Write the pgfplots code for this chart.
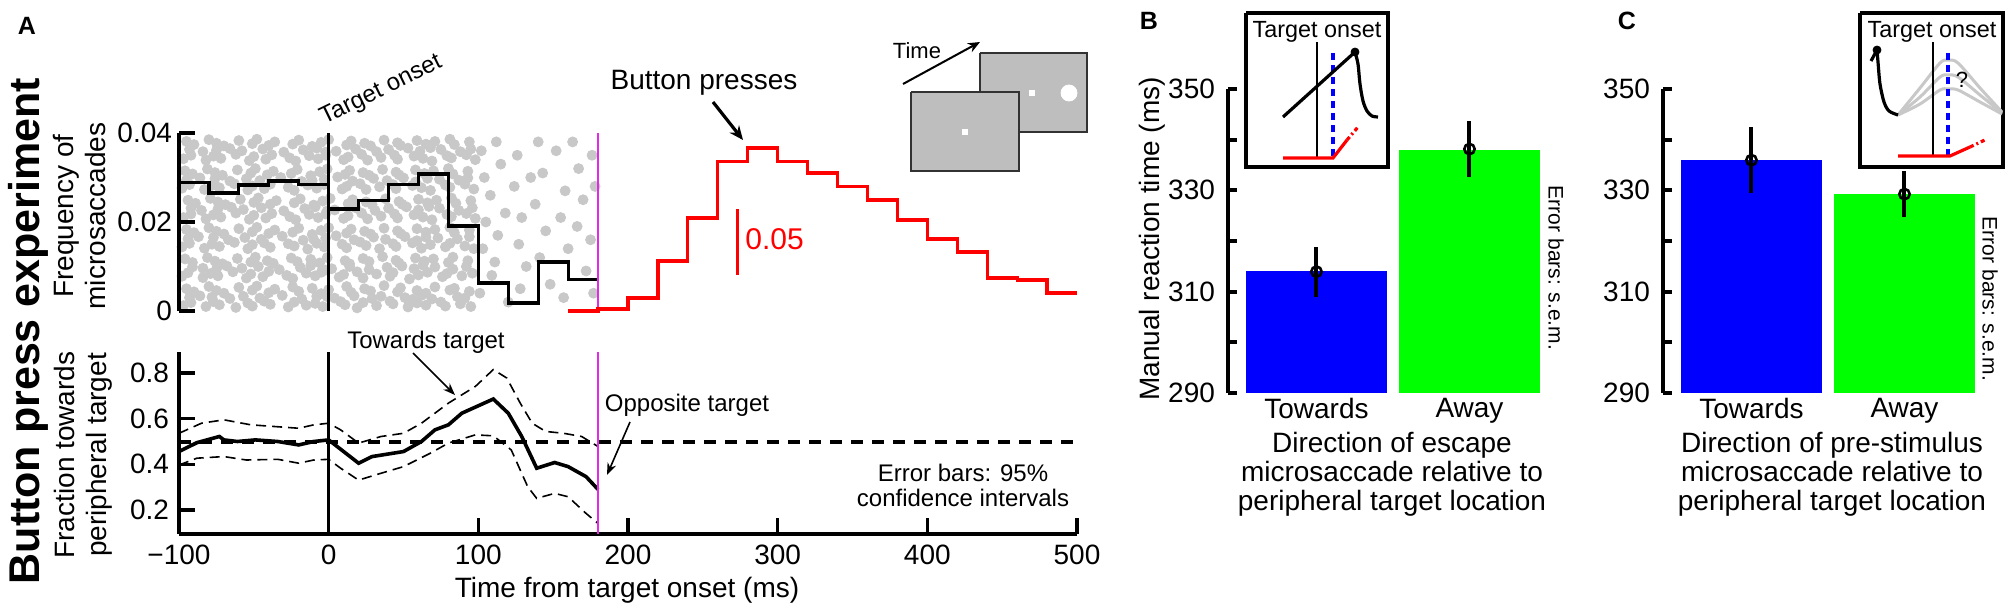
\documentclass[border=0pt]{standalone}
\usepackage{pgfplots}
\pgfplotsset{compat=1.18}
\usetikzlibrary{arrows.meta}
\usepackage{fontspec}
\setmainfont{Liberation Sans}
\definecolor{dotgray}{RGB}{200,200,200}
\definecolor{scrgray}{RGB}{190,190,190}
\definecolor{scredge}{RGB}{50,50,50}
\definecolor{mag}{RGB}{225,45,225}
\definecolor{pblue}{RGB}{0,0,255}
\definecolor{pgreen}{RGB}{0,255,0}
\definecolor{lgray}{RGB}{200,200,200}
\newcommand{\fs}[1]{\fontsize{#1}{#1}\selectfont}
\pgfplotsset{
  panel/.style={scale only axis, anchor=south west, tick align=inside,
    axis line style={line width=1.7pt}, tick style={line width=1.7pt, black},
    major tick length=8pt, ticklabel style={font=\fs{14}},
    scaled x ticks=false, scaled y ticks=false},
}
\begin{document}
\begin{tikzpicture}
\useasboundingbox (0,0) rectangle (1005pt,305pt);

% ---------- Panel A top: microsaccade raster (drawn first, underneath)
\begin{axis}[scale only axis, anchor=south west, at={(89.5pt,149.5pt)}, width=449pt, height=89pt,
  xmin=-100, xmax=500, ymin=0, ymax=0.04, clip=false, hide axis]
\addplot[dotgray, only marks, mark=*, mark size=2.5pt, mark options={draw=dotgray, fill=dotgray}] coordinates {
(-97,.0012)(-92,.0019)(-82,.0010)(-77,.0021)(-73,.0014)(-62,.0008)(-54,.0018)(-51,.0011)(-43,.0022)(-39,.0015)(-27,.0009)(-23,.0020)(-15,.0013)(-9,.0017)(-4,.0010)(8,.0021)(11,.0014)(19,.0007)(23,.0019)(32,.0012)(41,.0022)(43,.0016)(53,.0009)(59,.0018)(65,.0013)(75,.0020)(78,.0011)(88,.0016)(95,.0010)
(-95,.0050)(-90,.0043)(-80,.0055)(-75,.0046)(-70,.0040)(-60,.0053)(-51,.0047)(-48,.0056)(-40,.0041)(-36,.0049)(-24,.0054)(-20,.0044)(-11,.0051)(-5,.0039)(0,.0048)(12,.0055)(15,.0042)(24,.0050)(28,.0045)(37,.0057)(46,.0043)(48,.0052)(59,.0046)(65,.0040)(71,.0054)(81,.0047)(84,.0051)(94,.0044)
(-98,.0078)(-94,.0086)(-84,.0075)(-79,.0084)(-74,.0079)(-64,.0088)(-55,.0074)(-52,.0083)(-44,.0077)(-40,.0089)(-28,.0080)(-24,.0073)(-15,.0085)(-9,.0079)(-5,.0087)(7,.0076)(10,.0082)(19,.0088)(23,.0074)(32,.0083)(41,.0078)(43,.0086)(54,.0072)(60,.0081)(66,.0087)(76,.0077)(79,.0084)(89,.0079)(96,.0085)
(-96,.0117)(-91,.0109)(-81,.0120)(-76,.0112)(-71,.0106)(-61,.0118)(-52,.0110)(-49,.0121)(-41,.0113)(-37,.0107)(-25,.0119)(-21,.0111)(-12,.0116)(-6,.0108)(-1,.0120)(11,.0113)(14,.0106)(23,.0118)(27,.0111)(36,.0122)(45,.0114)(47,.0108)(58,.0119)(64,.0112)(70,.0117)(80,.0109)(83,.0121)(93,.0113)
(-98,.0144)(-93,.0152)(-83,.0141)(-78,.0150)(-73,.0145)(-63,.0154)(-54,.0140)(-51,.0149)(-43,.0153)(-39,.0143)(-27,.0151)(-23,.0146)(-14,.0139)(-8,.0152)(-3,.0144)(9,.0150)(12,.0142)(21,.0155)(25,.0147)(34,.0140)(43,.0151)(45,.0145)(56,.0153)(62,.0141)(68,.0149)(78,.0144)(81,.0152)(91,.0146)(97,.0140)
(-95,.0183)(-90,.0176)(-80,.0187)(-75,.0179)(-70,.0173)(-60,.0185)(-51,.0178)(-48,.0188)(-40,.0174)(-36,.0182)(-24,.0177)(-20,.0186)(-11,.0172)(-5,.0181)(0,.0187)(12,.0175)(15,.0184)(24,.0179)(28,.0173)(37,.0186)(46,.0180)(48,.0174)(59,.0185)(65,.0177)(71,.0183)(81,.0188)(84,.0176)(94,.0182)
(-97,.0210)(-92,.0218)(-82,.0207)(-77,.0216)(-72,.0211)(-62,.0220)(-53,.0206)(-50,.0215)(-42,.0209)(-38,.0219)(-26,.0212)(-22,.0205)(-13,.0217)(-7,.0210)(-2,.0218)(10,.0208)(13,.0214)(22,.0220)(26,.0207)(35,.0213)(44,.0218)(46,.0209)(57,.0216)(63,.0211)(69,.0205)(79,.0217)(82,.0212)(92,.0219)(98,.0208)
(-94,.0249)(-89,.0242)(-79,.0253)(-74,.0245)(-69,.0239)(-59,.0251)(-50,.0244)(-47,.0254)(-39,.0240)(-35,.0248)(-23,.0243)(-19,.0252)(-10,.0238)(-4,.0247)(1,.0253)(13,.0241)(16,.0250)(25,.0245)(29,.0239)(38,.0252)(47,.0246)(49,.0240)(60,.0251)(66,.0243)(72,.0249)(82,.0254)(85,.0242)(95,.0248)
(-98,.0276)(-93,.0284)(-83,.0273)(-78,.0282)(-73,.0277)(-63,.0286)(-54,.0272)(-51,.0281)(-43,.0275)(-39,.0285)(-27,.0278)(-23,.0271)(-14,.0283)(-8,.0276)(-3,.0284)(9,.0274)(12,.0280)(21,.0286)(25,.0273)(34,.0279)(43,.0284)(45,.0275)(56,.0282)(62,.0277)(68,.0271)(78,.0283)(81,.0278)(91,.0285)(97,.0274)
(-96,.0315)(-91,.0308)(-81,.0319)(-76,.0311)(-71,.0305)(-61,.0317)(-52,.0310)(-49,.0320)(-41,.0306)(-37,.0314)(-25,.0309)(-21,.0318)(-12,.0304)(-6,.0313)(-1,.0319)(11,.0307)(14,.0316)(23,.0311)(27,.0305)(36,.0318)(45,.0312)(47,.0306)(58,.0317)(64,.0309)(70,.0315)(80,.0320)(83,.0308)(93,.0314)
(-97,.0342)(-92,.0350)(-82,.0339)(-77,.0348)(-72,.0343)(-62,.0352)(-53,.0338)(-50,.0347)(-42,.0341)(-38,.0351)(-26,.0344)(-22,.0337)(-13,.0349)(-7,.0342)(-2,.0350)(10,.0340)(13,.0346)(22,.0352)(26,.0339)(35,.0345)(44,.0350)(46,.0341)(57,.0348)(63,.0343)(69,.0337)(79,.0349)(82,.0344)(92,.0351)(98,.0340)
(-95,.0381)(-90,.0374)(-80,.0385)(-75,.0377)(-70,.0371)(-60,.0383)(-51,.0376)(-48,.0386)(-40,.0372)(-36,.0380)(-24,.0375)(-20,.0384)(-11,.0370)(-5,.0379)(0,.0385)(12,.0373)(15,.0382)(24,.0377)(28,.0371)(37,.0384)(46,.0378)(48,.0372)(59,.0383)(65,.0375)(71,.0381)(81,.0386)(84,.0374)(94,.0380)
(-93,.0030)(-86,.0034)(-66,.0028)(-57,.0033)(-46,.0029)(-31,.0035)(-18,.0027)(-1,.0032)(4,.0029)(17,.0034)(29,.0028)(35,.0033)(51,.0030)(62,.0035)(69,.0027)(86,.0032)(91,.0029)(-78,.0031)(-8,.0033)(56,.0026)
(-91,.0099)(-75,.0094)(-68,.0101)(-58,.0096)(-47,.0100)(-33,.0093)(-19,.0098)(-12,.0102)(2,.0095)(14,.0100)(27,.0093)(39,.0098)(49,.0101)(57,.0095)(71,.0099)(83,.0094)(92,.0100)(-84,.0096)(-2,.0092)(63,.0103)
(-94,.0162)(-87,.0167)(-67,.0160)(-56,.0165)(-45,.0161)(-31,.0168)(-17,.0159)(-2,.0164)(5,.0169)(17,.0160)(30,.0166)(38,.0161)(51,.0167)(59,.0158)(73,.0164)(86,.0162)(94,.0167)(-77,.0165)(-10,.0161)(65,.0166)
(-92,.0231)(-85,.0226)(-65,.0233)(-57,.0228)(-45,.0232)(-30,.0225)(-16,.0230)(-9,.0234)(4,.0227)(18,.0232)(31,.0226)(40,.0231)(52,.0234)(60,.0227)(74,.0231)(87,.0226)(96,.0232)(-74,.0229)(-1,.0225)(67,.0235)
(-95,.0294)(-86,.0299)(-66,.0292)(-55,.0297)(-46,.0293)(-32,.0300)(-18,.0291)(-3,.0296)(6,.0301)(16,.0292)(30,.0298)(39,.0293)(50,.0299)(58,.0290)(74,.0296)(87,.0294)(93,.0299)(-76,.0297)(-11,.0293)(66,.0298)
(-93,.0363)(-84,.0358)(-66,.0365)(-58,.0360)(-44,.0364)(-30,.0357)(-17,.0362)(-8,.0366)(5,.0359)(18,.0364)(32,.0358)(40,.0363)(53,.0366)(61,.0359)(75,.0363)(88,.0358)(95,.0364)(-75,.0361)(-2,.0357)(68,.0367)
(102,.036)(104,.030)(108,.026)(105,.020)(103,.014)(109,.008)(101,.004)(112,.038)(115,.033)(118,.022)(113,.017)(111,.011)(126,.035)(124,.028)(129,.021)(127,.015)(132,.010)(128,.005)(140,.038)(143,.031)(138,.024)(145,.018)(141,.012)(148,.006)(152,.036)(158,.027)(155,.021)(160,.014)(163,.038)(167,.032)(170,.025)(166,.019)(172,.009)(176,.035)(178,.028)(175,.016)(177,.004)(157,.003)(120,.002)(135,.030)
};
\end{axis}

% ---------- Panel A top: histogram and axis
\begin{axis}[panel, at={(89.5pt,149.5pt)}, width=449pt, height=89pt,
  xmin=-100, xmax=500, ymin=0, ymax=0.04, clip=false,
  hide x axis, axis y line*=left,
  ytick={0,0.02,0.04}, yticklabels={0,0.02,0.04}]
\addplot[const plot, black, line width=1.6pt] coordinates {
(-100,0.0288)(-80,0.0265)(-60,0.0283)(-40,0.0292)(-20,0.0285)(0,0.0229)(20,0.0249)(40,0.0285)(60,0.0308)(80,0.0191)(100,0.0063)(120,0.0018)(140,0.0110)(160,0.0070)(180,0.0070)};
\addplot[black, line width=1.6pt] coordinates {(0,0)(0,0.04)};
\addplot[mag, line width=1pt] coordinates {(180,0)(180,0.04)};
\end{axis}

% ---------- Panel A top: button press histogram (own scale)
\begin{axis}[scale only axis, anchor=south west, at={(89.5pt,149.5pt)}, width=449pt, height=89pt,
  xmin=-100, xmax=500, ymin=0, ymax=0.1348, hide axis, clip=false]
\addplot[const plot, red, line width=1.6pt] coordinates {
(160,0.0)(180,0.0015)(200,0.0098)(220,0.0379)(240,0.0705)(260,0.113)(280,0.1235)(300,0.113)(320,0.1045)(340,0.094)(360,0.084)(380,0.0689)(400,0.0545)(420,0.0447)(440,0.025)(460,0.0235)(480,0.0136)(500,0.0136)};
\addplot[red, line width=1.6pt] coordinates {(273,0.0273)(273,0.0773)};
\end{axis}

% ---------- Panel A bottom: fraction towards target
\begin{axis}[panel, at={(89.5pt,38pt)}, width=449pt, height=91pt,
  xmin=-100, xmax=500, ymin=0.095, ymax=0.892,
  axis x line*=bottom, axis y line*=left,
  xtick={-100,0,100,200,300,400,500}, xticklabels={−100,0,100,200,300,400,500},
  ytick={0.2,0.4,0.6,0.8}, yticklabels={0.2,0.4,0.6,0.8},
  xticklabel style={yshift=-2pt}, yticklabel style={xshift=-1.5pt}]
\addplot[black, line width=2pt, dash pattern=on 6pt off 4.5pt] coordinates {(-100,0.5)(498,0.5)};
\addplot[black, line width=0.8pt, dash pattern=on 5pt off 3pt] coordinates {
(-100,0.536)(-85,0.58)(-70,0.595)(-52,0.573)(-20,0.558)(-10,0.573)(0,0.58)(8,0.551)(20,0.493)(35,0.522)(50,0.536)(62,0.58)(80,0.668)(98,0.741)(110,0.815)(119,0.778)(128,0.668)(136,0.58)(145,0.544)(157,0.536)(169,0.522)(180,0.478)};
\addplot[black, line width=0.8pt, dash pattern=on 5pt off 3pt] coordinates {
(-100,0.397)(-88,0.427)(-70,0.434)(-55,0.419)(-34,0.422)(-20,0.405)(-10,0.419)(0,0.422)(8,0.383)(20,0.331)(35,0.361)(50,0.39)(68,0.449)(80,0.493)(98,0.529)(110,0.525)(122,0.463)(133,0.302)(139,0.251)(151,0.273)(160,0.258)(172,0.185)(180,0.141)};
\addplot[black, line width=1.8pt] coordinates {
(-100,0.456)(-88,0.495)(-73,0.522)(-70,0.507)(-61,0.5)(-49,0.507)(-34,0.5)(-20,0.485)(-10,0.5)(0,0.507)(20,0.405)(29,0.434)(50,0.456)(62,0.5)(71,0.551)(80,0.573)(89,0.624)(110,0.686)(120,0.624)(129,0.522)(139,0.383)(151,0.408)(160,0.39)(172,0.346)(180,0.29)};
\addplot[black, line width=1.6pt] coordinates {(0,0.095)(0,0.892)};
\addplot[mag, line width=1pt] coordinates {(180,0.095)(180,0.892)};
\end{axis}

% ---------- Panel B
\begin{axis}[panel, at={(614pt,108.5pt)}, width=166.65pt, height=152pt,
  xmin=-0.578, xmax=1.6, ymin=290, ymax=350,
  axis x line*=bottom, axis y line*=left, x axis line style={draw=none},
  axis line style={line width=2pt},
  xtick={0,1}, xticklabels={Towards,Away}, xtick style={draw=none},
  ytick={290,310,330,350}, yticklabels={290,310,330,350}, minor ytick={300,320,340},
  major tick length=4.5pt, minor tick length=4.5pt, tick style={line width=2pt,black},
  yticklabel style={xshift=-3pt}, xticklabel style={yshift=1pt}]
\addplot[ybar, bar width=0.92, bar shift=0pt, fill=pblue, draw=none] coordinates {(0,314)};
\addplot[ybar, bar width=0.92, bar shift=0pt, fill=pgreen, draw=none] coordinates {(1,338)};
\addplot[black, only marks, mark=o, mark size=2.6pt, mark options={line width=1.3pt},
  error bars/.cd, y dir=both, y explicit, error mark=none, error bar style={line width=2pt}]
  coordinates {(0,313.95) +- (0,4.95) (1,338.15) +- (0,5.55)};
\end{axis}

% ---------- Panel C
\begin{axis}[panel, at={(831.5pt,108.5pt)}, width=166.65pt, height=152pt,
  xmin=-0.578, xmax=1.6, ymin=290, ymax=350,
  axis x line*=bottom, axis y line*=left, x axis line style={draw=none},
  axis line style={line width=2pt},
  xtick={0,1}, xticklabels={Towards,Away}, xtick style={draw=none},
  ytick={290,310,330,350}, yticklabels={290,310,330,350}, minor ytick={300,320,340},
  major tick length=4.5pt, minor tick length=4.5pt, tick style={line width=2pt,black},
  yticklabel style={xshift=-3pt}, xticklabel style={yshift=1pt}]
\addplot[ybar, bar width=0.92, bar shift=0pt, fill=pblue, draw=none] coordinates {(0,335.9)};
\addplot[ybar, bar width=0.92, bar shift=0pt, fill=pgreen, draw=none] coordinates {(1,329.2)};
\addplot[black, only marks, mark=o, mark size=2.6pt, mark options={line width=1.3pt},
  error bars/.cd, y dir=both, y explicit, error mark=none, error bar style={line width=2pt}]
  coordinates {(0,335.95) +- (0,6.55) (1,329.25) +- (0,4.55)};
\end{axis}

% ---------- Canvas (pixel coordinates) for texts and schematic insets
\begin{axis}[scale only axis, anchor=south west, at={(0pt,0pt)}, width=1005pt, height=305pt,
  xmin=0, xmax=2010, ymin=0, ymax=610, y dir=reverse, hide axis, clip=false]
\node[font=\bfseries\fs{12.5}, inner sep=0] at (axis cs:27,26) {A};
\node[font=\bfseries\fs{12.5}, inner sep=0] at (axis cs:1149,21) {B};
\node[font=\bfseries\fs{12.5}, inner sep=0] at (axis cs:1627,21) {C};
\node[font=\bfseries\fs{21.5}, rotate=90, anchor=base, inner sep=0] at (axis cs:40,331) {Button press experiment};
\node[font=\fontsize{14}{16}\selectfont, rotate=90, align=center, inner sep=0] at (axis cs:80,216) {Frequency of\\microsaccades};
\node[font=\fontsize{14}{16}\selectfont, rotate=90, align=center, inner sep=0] at (axis cs:83,455) {Fraction towards\\peripheral target};
\node[font=\fs{14}, inner sep=0] at (axis cs:627,590) {Time from target onset (ms)};
\node[font=\fs{12}, rotate=26, anchor=base west, inner sep=0] at (axis cs:324,125) {Target onset};
\node[font=\fs{14}, inner sep=0] at (axis cs:704,83) {Button presses};
\addplot[black, line width=1.6pt, -{Stealth[length=7pt,width=6pt]}] coordinates {(713,102)(743,140)};
\node[font=\fs{15}, text=red, anchor=west, inner sep=0] at (axis cs:745,239) {0.05};
\node[font=\fs{12}, inner sep=0] at (axis cs:426,342) {Towards target};
\addplot[black, line width=0.8pt, -{Stealth[length=6pt,width=4.5pt]}] coordinates {(413,353)(455,395)};
\node[font=\fs{12}, inner sep=0] at (axis cs:687,405) {Opposite target};
\addplot[black, line width=0.8pt, -{Stealth[length=6pt,width=4.5pt]}] coordinates {(630,422)(607,475)};
\node[font=\fontsize{12}{12.5}\selectfont, align=center, inner sep=0] at (axis cs:963,485) {Error bars: 95\%\\confidence intervals};
% screens inset
\node[font=\fs{11}, inner sep=0] at (axis cs:917,51) {Time};
\addplot[black, line width=1pt, -{Stealth[length=6pt,width=5pt]}] coordinates {(903,84)(980,42)};
\addplot[draw=scredge, line width=1pt, fill=scrgray] coordinates {(980,53)(1087,53)(1087,132)(980,132)(980,53)};
\addplot[white, only marks, mark=square*, mark size=1.1pt, mark options={draw=white, fill=white}] coordinates {(1032,93)};
\addplot[white, only marks, mark=*, mark size=4pt, mark options={draw=white, fill=white}] coordinates {(1069,93)};
\addplot[draw=scredge, line width=1pt, fill=scrgray] coordinates {(911,92)(1019,92)(1019,171)(911,171)(911,92)};
\addplot[white, only marks, mark=square*, mark size=1.1pt, mark options={draw=white, fill=white}] coordinates {(965,132)};
% panel B texts
\node[font=\fs{14}, rotate=90, inner sep=0] at (axis cs:1152,239) {Manual reaction time (ms)};
\node[font=\fs{10.5}, rotate=-90, inner sep=0] at (axis cs:1556,268) {Error bars: s.e.m.};
\node[font=\fontsize{14}{14.5}\selectfont, align=center, inner sep=0] at (axis cs:1392,474) {Direction of escape\\microsaccade relative to\\peripheral target location};
% panel C texts
\node[font=\fs{10.5}, rotate=-90, inner sep=0] at (axis cs:1990,299) {Error bars: s.e.m.};
\node[font=\fontsize{14}{14.5}\selectfont, align=center, inner sep=0] at (axis cs:1832,474) {Direction of pre-stimulus\\microsaccade relative to\\peripheral target location};
% inset B
\addplot[draw=black, line width=1.6pt, fill=white] coordinates {(1246,13)(1388,13)(1388,167)(1246,167)(1246,13)};
\node[font=\fs{11.7}, inner sep=0] at (axis cs:1317,32) {Target onset};
\addplot[black, line width=1.4pt] coordinates {(1317,42)(1317,157)};
\addplot[pblue, line width=1.6pt, dash pattern=on 3.5pt off 2.5pt] coordinates {(1333,53)(1333,157)};
\addplot[black, line width=1.6pt] coordinates {(1283,117)(1355,52)};
\addplot[black, line width=1.6pt, smooth] coordinates {(1355,52)(1358,64)(1360,84)(1363,101)(1367,111)(1372,116)(1378,117)};
\addplot[black, only marks, mark=*, mark size=2pt] coordinates {(1355,52)};
\addplot[red, line width=1.6pt] coordinates {(1283,158)(1333,158)(1347,140)};
\addplot[red, line width=1.6pt, dash pattern=on 2pt off 1.5pt on 1pt off 1.5pt] coordinates {(1347,140)(1358,127)};
% inset C
\addplot[draw=black, line width=1.6pt, fill=white] coordinates {(1860,13)(2003,13)(2003,167)(1860,167)(1860,13)};
\node[font=\fs{11.7}, inner sep=0] at (axis cs:1932,32) {Target onset};
\addplot[lgray, line width=1.5pt, smooth] coordinates {(1898,115)(1920,88)(1940,63)(1948,60)(1958,63)(1980,88)(2002,112)};
\addplot[lgray, line width=1.5pt, smooth] coordinates {(1898,115)(1920,97)(1940,77)(1948,75)(1958,77)(1980,95)(2002,113)};
\addplot[lgray, line width=1.5pt, smooth] coordinates {(1898,115)(1920,104)(1940,90)(1948,89)(1958,90)(1980,102)(2002,114)};
\addplot[black, line width=1.4pt] coordinates {(1933,42)(1933,155)};
\addplot[pblue, line width=1.6pt, dash pattern=on 3.5pt off 2.5pt] coordinates {(1948,53)(1948,155)};
\node[font=\fs{11}, inner sep=0] at (axis cs:1962,80) {?};
\addplot[black, line width=1.6pt, smooth] coordinates {(1877,50)(1878,62)(1880,84)(1884,102)(1889,111)(1898,115)};
\addplot[black, line width=1.6pt] coordinates {(1871,61)(1877,50)};
\addplot[black, only marks, mark=*, mark size=2pt] coordinates {(1877,50)};
\addplot[red, line width=1.6pt] coordinates {(1898,156)(1950,156)(1970,147)};
\addplot[red, line width=1.6pt, dash pattern=on 2pt off 1.5pt on 1pt off 1.5pt] coordinates {(1970,147)(1987,139)};
\end{axis}
\end{tikzpicture}
\end{document}
